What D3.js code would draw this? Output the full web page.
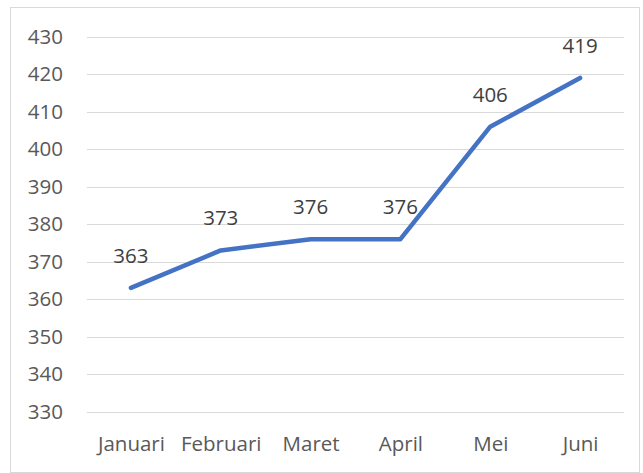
<!DOCTYPE html>
<html>
<head>
<meta charset="utf-8">
<script src="https://cdn.jsdelivr.net/npm/d3@7"></script>
<style>
  html, body { margin: 0; padding: 0; background: #fff; }
  svg { display: block; font-family: "Open Sans", "Noto Sans", sans-serif; }
</style>
</head>
<body>
<svg id="chart" width="643" height="473"></svg>
<script>
const months = ['Januari', 'Februari', 'Maret', 'April', 'Mei', 'Juni'];
const values = [363, 373, 376, 376, 406, 419];
const yTicks = [330, 340, 350, 360, 370, 380, 390, 400, 410, 420, 430];

const W = 643, H = 473;
const FONT = 20.5;
const plot = { left: 86, right: 625, top: 36.7, bottom: 411.7 };

const svg = d3.select('#chart');

// chart area border
svg.append('rect')
  .attr('x', 10.5).attr('y', 7.5)
  .attr('width', W - 14).attr('height', H - 8)
  .attr('fill', '#fff').attr('stroke', '#d9d9d9').attr('stroke-width', 1);

const x = d3.scalePoint().domain(months)
  .range([plot.left, plot.right]).padding(0.5);
const y = d3.scaleLinear().domain([330, 430])
  .range([plot.bottom, plot.top]);

// gridlines
svg.append('g')
  .selectAll('line').data(yTicks).join('line')
  .attr('x1', plot.left + 1).attr('x2', plot.right - 1)
  .attr('y1', d => Math.round(y(d)) + 0.5)
  .attr('y2', d => Math.round(y(d)) + 0.5)
  .attr('stroke', '#d9d9d9').attr('stroke-width', 1);

// y axis labels
const yAxis = svg.append('g')
  .attr('transform', `translate(${plot.left - 23},0)`)
  .call(d3.axisLeft(y).tickValues(yTicks).tickSize(0).tickPadding(0));
yAxis.select('.domain').remove();
yAxis.selectAll('text')
  .attr('font-family', '"Open Sans", "Noto Sans", sans-serif')
  .attr('font-size', FONT).attr('fill', '#595959');

// x axis labels
const xAxis = svg.append('g')
  .attr('transform', `translate(0,${plot.bottom + 25})`)
  .call(d3.axisBottom(x).tickSize(0).tickPadding(0));
xAxis.select('.domain').remove();
xAxis.selectAll('text')
  .attr('font-family', '"Open Sans", "Noto Sans", sans-serif')
  .attr('font-size', FONT).attr('fill', '#595959');

// line
const line = d3.line()
  .x((d, i) => x(months[i]))
  .y(d => y(d));

svg.append('path').datum(values)
  .attr('d', line)
  .attr('fill', 'none')
  .attr('stroke', '#4472c4')
  .attr('stroke-width', 4.5)
  .attr('stroke-linejoin', 'round')
  .attr('stroke-linecap', 'round');

// data labels
svg.append('g')
  .selectAll('text').data(values).join('text')
  .attr('x', (d, i) => x(months[i]))
  .attr('y', d => y(d) - 25)
  .attr('text-anchor', 'middle')
  .attr('font-size', FONT)
  .attr('fill', '#404040')
  .text(d => d);
</script>
</body>
</html>
